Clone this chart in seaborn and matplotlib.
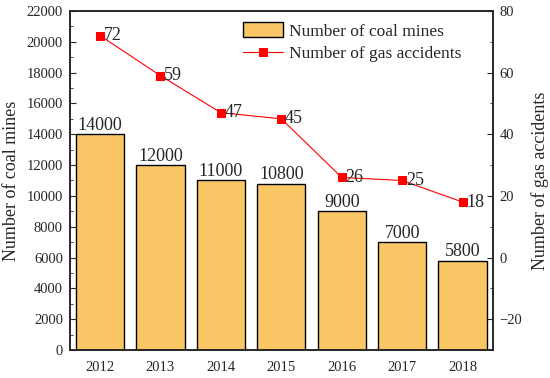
import matplotlib
matplotlib.use("Agg")
import matplotlib.pyplot as plt
import seaborn as sns
import pandas as pd
from matplotlib.ticker import MultipleLocator

years = ["2012", "2013", "2014", "2015", "2016", "2017", "2018"]
coal_mines = [14000, 12000, 11000, 10800, 9000, 7000, 5800]
gas_accidents = [72, 59, 47, 45, 26, 25, 18]

sns.set_style("ticks")
plt.rcParams['font.family'] = ['Liberation Serif', 'DejaVu Serif']
plt.rcParams['axes.linewidth'] = 1.2

df = pd.DataFrame({"year": years, "mines": coal_mines, "acc": gas_accidents,
                   "pos": list(range(len(years)))})

fig = plt.figure(figsize=(5.5, 3.78), dpi=100)
ax = fig.add_axes([0.127, 0.074, 0.769, 0.897])
bar_color = "#F9C765"
sns.barplot(data=df, x="year", y="mines", color=bar_color, edgecolor="black",
            linewidth=1.0, width=0.8, saturation=1, ax=ax, label="Number of coal mines")
ax.set_xlim(-0.5, 6.5)
ax.set_ylim(0, 22000)
ax.yaxis.set_major_locator(MultipleLocator(2000))
ax.yaxis.set_minor_locator(MultipleLocator(1000))
ax.set_xlabel("")
ax.set_ylabel("Number of coal mines", fontsize=13, labelpad=5)
ax.tick_params(axis='y', which='major', direction='in', length=4, labelsize=10.5, pad=5)
ax.tick_params(axis='y', which='minor', direction='in', length=2)
ax.tick_params(axis='x', length=0, labelsize=10.5, pad=8)
for p, v in zip(ax.patches, coal_mines):
    ax.text(p.get_x() + p.get_width() / 2, v + 30, f"{v}", ha='center', va='bottom', fontsize=13)

ax2 = ax.twinx()
sns.lineplot(data=df, x="pos", y="acc", color="#FF0000", marker="s", markersize=5.5,
             markeredgecolor="#FF0000", linewidth=0.8, ax=ax2, label="Number of gas accidents")
ax2.set_ylim(-30, 80)
ax2.set_xlim(-0.5, 6.5)
ax2.yaxis.set_major_locator(MultipleLocator(20))
ax2.yaxis.set_minor_locator(MultipleLocator(10))
ax2.set_ylabel("Number of gas accidents", fontsize=13, labelpad=6)
ax2.tick_params(axis='y', which='major', direction='in', length=4, labelsize=10.5, pad=5)
ax2.tick_params(axis='y', which='minor', direction='in', length=2)
for i, v in enumerate(gas_accidents):
    ax2.text(i + 0.06, v, f"{v}", ha='left', va='center', fontsize=13)

h1, l1 = ax.get_legend_handles_labels()
h2, l2 = ax2.get_legend_handles_labels()
if ax2.get_legend():
    ax2.get_legend().remove()
if ax.get_legend():
    ax.get_legend().remove()
ax2.legend(h1 + h2, l1 + l2, loc='upper left', bbox_to_anchor=(0.409, 0.968),
           frameon=False, fontsize=12.5, handlelength=2.3, handleheight=1.0,
           borderaxespad=0, borderpad=0, labelspacing=0.3, handletextpad=0.35)
for s in ax.spines.values():
    s.set_visible(True)

fig.savefig("out.png", dpi=100)
